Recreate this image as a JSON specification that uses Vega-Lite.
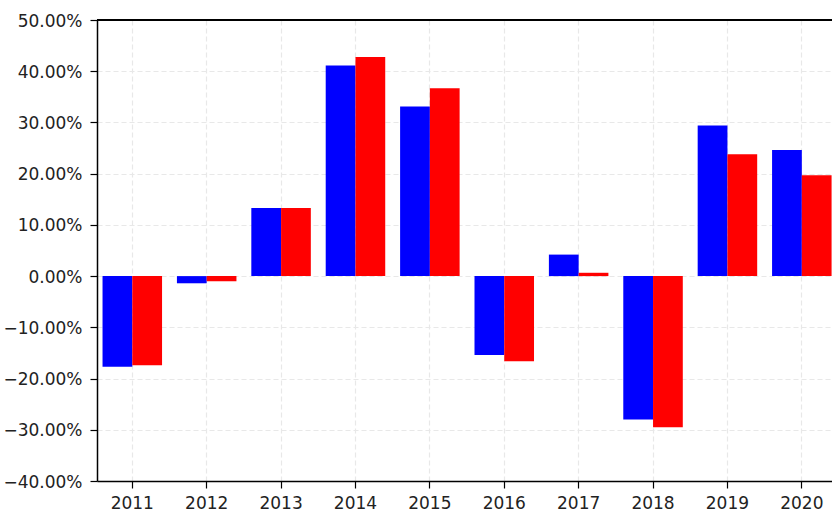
{
  "$schema": "https://vega.github.io/schema/vega-lite/v6.json",
  "width": 735,
  "height": 461,
  "autosize": {"type": "none"},
  "padding": {"left": 97, "top": 20, "right": 0, "bottom": 35},
  "background": "white",
  "config": {"view": {"stroke": null}, "font": "DejaVu Sans"},
  "data": {
    "values": [
      {"year": "2011", "series": "s1", "value": -0.177},
      {"year": "2011", "series": "s2", "value": -0.174},
      {"year": "2012", "series": "s1", "value": -0.014},
      {"year": "2012", "series": "s2", "value": -0.010},
      {"year": "2013", "series": "s1", "value": 0.133},
      {"year": "2013", "series": "s2", "value": 0.133},
      {"year": "2014", "series": "s1", "value": 0.411},
      {"year": "2014", "series": "s2", "value": 0.428},
      {"year": "2015", "series": "s1", "value": 0.331},
      {"year": "2015", "series": "s2", "value": 0.367},
      {"year": "2016", "series": "s1", "value": -0.154},
      {"year": "2016", "series": "s2", "value": -0.166},
      {"year": "2017", "series": "s1", "value": 0.042},
      {"year": "2017", "series": "s2", "value": 0.0065},
      {"year": "2018", "series": "s1", "value": -0.280},
      {"year": "2018", "series": "s2", "value": -0.295},
      {"year": "2019", "series": "s1", "value": 0.294},
      {"year": "2019", "series": "s2", "value": 0.238},
      {"year": "2020", "series": "s1", "value": 0.246},
      {"year": "2020", "series": "s2", "value": 0.197}
    ]
  },
  "layer": [
    {
      "mark": {"type": "bar"},
      "encoding": {
        "x": {
          "field": "year",
          "type": "nominal",
          "scale": {"paddingInner": 0.2, "paddingOuter": 0.04, "align": 0.93},
          "axis": {
            "title": null,
            "labelAngle": 0,
            "bandPosition": 0.5,
            "grid": true,
            "gridColor": "#e8e8e8",
            "gridDash": [5, 3],
            "gridWidth": 1.2,
            "domainColor": "black",
            "domainWidth": 1.5,
            "tickColor": "black",
            "tickSize": 7,
            "tickWidth": 1.2,
            "labelColor": "#222222",
            "labelFontSize": 17,
            "labelPadding": 7
          }
        },
        "xOffset": {
          "field": "series",
          "type": "nominal",
          "scale": {"paddingInner": 0, "paddingOuter": 0}
        },
        "y": {
          "field": "value",
          "type": "quantitative",
          "scale": {"domain": [-0.4, 0.5], "nice": false},
          "axis": {
            "title": null,
            "values": [-0.4, -0.3, -0.2, -0.1, 0, 0.1, 0.2, 0.3, 0.4, 0.5],
            "format": ".2%",
            "grid": true,
            "gridColor": "#e8e8e8",
            "gridDash": [5, 3],
            "gridWidth": 1.2,
            "domainColor": "black",
            "domainWidth": 1.5,
            "tickColor": "black",
            "tickSize": 7,
            "tickWidth": 1.2,
            "labelColor": "#222222",
            "labelFontSize": 17,
            "labelPadding": 8,
            "labelBaseline": "middle",
            "labelOffset": 1
          }
        },
        "color": {
          "field": "series",
          "type": "nominal",
          "scale": {"domain": ["s1", "s2"], "range": ["#0000ff", "#ff0000"]},
          "legend": null
        }
      }
    },
    {
      "mark": {"type": "rule", "color": "black", "strokeWidth": 1.5},
      "encoding": {"y": {"datum": 0.5}}
    }
  ]
}
